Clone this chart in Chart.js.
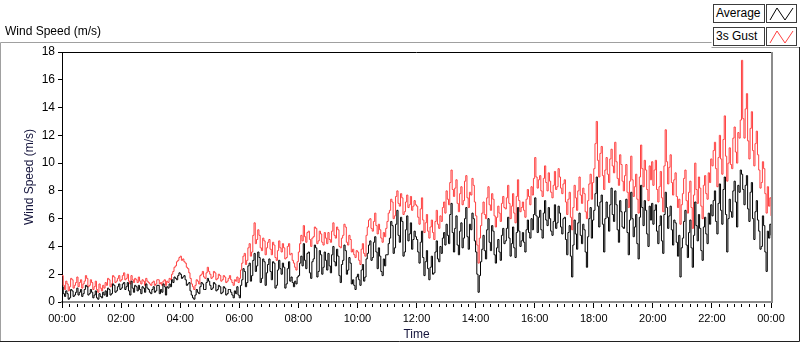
<!DOCTYPE html>
<html>
<head>
<meta charset="utf-8">
<script src="https://cdn.jsdelivr.net/npm/chart.js@4.4.1/dist/chart.umd.min.js"></script>
<style>
  body { margin: 0; background: #fff; font-family: "Liberation Sans", Arial, sans-serif; }
  #wrap { position: relative; width: 800px; height: 342px; overflow: hidden; }
  #graph { position: absolute; left: 0; top: 0; }
  .topTitle { position: absolute; left: 5px; top: 24px; font-size: 12px; color: #000; }
  .legText { position: absolute; left: 713px; width: 48px; height: 17px; border: 1px solid #3c3c3c; background: #fff;
             font-size: 12px; line-height: 17px; padding-left: 2px; box-sizing: content-box; }
  .legIcon { position: absolute; left: 766px; width: 29px; height: 17px; border: 1px solid #3c3c3c; background: #fff; }
</style>
</head>
<body>
<div id="wrap">
  <canvas id="graph" width="800" height="342"></canvas>
  <div class="topTitle">Wind Speed (m/s)</div>
  <div class="legText" style="top:4px">Average</div>
  <div class="legIcon" style="top:4px"><svg width="29" height="17"><polyline points="3,15 10,3 18,15 26,3" fill="none" stroke="#000" stroke-width="1"/></svg></div>
  <div class="legText" style="top:27px">3s Gust</div>
  <div class="legIcon" style="top:27px"><svg width="29" height="17"><polyline points="3,15 10,3 18,15 26,3" fill="none" stroke="#ff4040" stroke-width="1"/></svg></div>
</div>
<script>
// one sample every 2.5 minutes (24 per row)
const average = [
  1.1,0.6,0.4,0.8,0.6,0.2,0.3,0.9,0.8,0.4,0.5,0.7,1.0,0.5,0.7,0.9,0.4,0.6,0.9,1.2,1.1,0.5,0.6,0.9,
  0.7,0.3,0.5,0.8,0.3,0.2,0.6,0.4,0.3,0.7,0.5,0.8,0.4,1.0,0.9,0.5,0.6,1.3,1.2,0.7,0.8,1.1,1.3,0.9,
  1.0,1.3,1.4,0.9,1.1,1.4,0.8,0.5,1.5,1.0,0.7,1.2,1.1,0.8,1.2,0.9,0.6,1.1,1.0,0.7,1.3,1.0,0.9,0.7,
  0.6,0.9,1.1,0.7,0.8,1.2,1.2,0.6,0.9,0.7,1.3,1.1,0.5,1.1,1.0,1.3,1.1,1.6,1.4,1.8,1.7,1.6,1.9,2.1,
  2.0,1.7,1.8,1.9,1.6,1.2,1.3,1.4,0.8,0.5,0.3,0.2,0.5,0.9,0.7,0.6,1.1,1.4,1.3,0.9,0.9,1.4,1.7,1.5,
  1.2,0.9,1.0,1.4,1.3,0.8,0.9,1.2,1.1,0.6,0.7,1.1,1.0,0.5,0.6,0.9,0.9,0.7,0.5,0.3,0.8,0.6,1.1,0.5,
  0.3,1.2,1.6,2.4,2.2,1.1,1.4,2.6,2.8,1.5,1.9,3.0,3.5,2.2,2.6,3.6,3.2,1.4,1.7,3.1,2.9,1.2,2.1,2.7,
  3.1,2.2,1.6,2.9,2.8,1.0,1.2,2.3,3.0,2.4,2.0,2.8,2.5,1.0,1.3,2.4,2.9,1.5,1.8,1.4,1.1,1.5,1.3,1.8,
  1.9,2.8,3.3,2.6,4.2,3.0,2.4,3.5,3.6,2.1,1.7,2.9,3.1,4.1,3.9,1.8,2.2,3.7,3.4,2.0,2.5,3.6,3.0,2.3,
  3.5,2.6,2.1,3.4,4.0,2.9,2.6,3.8,3.3,1.9,1.4,2.7,3.0,4.1,3.7,2.0,2.3,3.2,2.8,1.3,1.6,1.2,0.9,1.8,
  2.0,1.6,1.2,2.3,2.7,1.5,1.8,3.1,3.5,4.1,4.4,3.0,3.2,4.3,4.7,3.6,2.4,3.9,3.3,2.2,1.9,3.1,2.6,3.4,
  3.4,4.2,4.6,5.8,5.5,3.5,3.9,5.6,6.6,4.8,4.3,6.1,5.8,3.3,3.6,5.2,6.2,4.4,4.9,5.7,3.8,4.5,5.1,4.7,
  4.5,3.6,2.8,4.3,5.1,3.2,1.9,2.9,3.7,2.4,1.6,2.5,3.3,2.0,2.1,3.6,4.4,3.1,2.9,4.0,3.5,4.6,5.0,4.1,
  5.6,4.8,4.2,6.3,7.1,5.0,3.6,5.3,6.2,4.1,3.4,5.1,5.7,3.9,4.6,6.0,6.8,4.7,3.8,5.6,5.2,6.4,6.0,4.4,
  3.6,2.0,0.7,1.9,2.9,3.8,4.8,3.7,3.1,5.2,6.0,4.3,3.7,5.5,5.1,3.4,2.8,3.9,4.5,3.6,3.0,4.8,5.3,4.2,
  4.4,5.3,6.1,4.6,3.3,4.2,5.4,3.9,3.2,5.0,6.8,5.1,4.0,4.4,5.0,4.3,3.6,5.2,5.9,5.0,4.6,6.0,5.2,6.3,
  7.5,6.2,5.0,6.1,6.6,5.2,4.6,6.4,7.3,5.9,5.5,6.8,6.0,5.1,4.8,5.8,7.0,5.3,5.7,6.9,6.4,5.4,4.9,6.0,
  6.1,4.5,3.4,5.0,5.5,3.3,1.8,4.1,5.9,4.9,3.8,5.7,6.4,4.8,4.2,5.6,5.2,3.6,2.5,4.7,6.0,6.8,4.6,5.9,
  6.6,7.8,9.0,6.9,5.4,7.2,7.7,5.6,3.6,6.0,7.2,6.1,5.1,7.0,8.2,6.3,5.8,8.0,7.0,5.2,4.3,7.3,6.5,5.4,
  5.3,6.5,7.4,5.0,3.4,5.9,7.9,6.0,4.7,5.4,6.3,4.2,3.1,6.1,8.4,6.8,5.5,7.3,6.6,4.9,4.0,6.9,5.9,7.1,
  5.6,6.6,7.0,5.1,4.2,5.5,6.2,4.4,3.5,6.3,7.9,6.8,5.3,6.2,6.9,5.2,4.1,5.9,5.7,4.3,3.3,4.8,1.8,3.9,
  4.6,5.8,6.6,4.1,3.2,5.0,5.9,3.9,2.5,4.8,7.2,5.5,4.4,6.3,5.3,3.7,3.0,5.4,6.1,4.9,4.2,6.4,5.6,7.0,
  6.2,7.3,8.0,5.8,4.9,7.1,8.5,6.6,5.6,8.1,9.0,6.3,3.6,6.0,7.4,6.5,6.1,8.0,8.7,7.2,5.4,8.4,7.9,9.5,
  9.2,8.1,7.0,8.4,9.1,6.7,5.8,7.9,8.6,6.0,4.5,6.5,7.3,5.9,5.1,3.8,4.0,6.2,5.5,3.6,2.2,5.1,4.6,5.6,
  4.8
];
const gust = [
  1.9,1.2,0.9,1.5,1.3,0.8,1.1,1.7,1.6,1.0,1.2,1.4,1.8,1.1,1.4,1.6,1.0,1.3,1.5,1.9,1.7,1.1,1.2,1.6,
  1.4,0.9,1.1,1.5,0.9,0.7,1.3,1.0,0.8,1.2,1.0,1.4,1.2,1.7,1.6,1.1,1.3,1.9,1.8,1.4,1.5,1.7,1.9,1.5,
  1.6,1.9,2.1,1.6,1.7,2.0,1.5,1.3,1.9,1.6,1.4,1.7,1.6,1.4,1.8,1.5,1.3,1.6,1.5,1.2,1.7,1.5,1.4,1.3,
  1.2,1.4,1.5,1.2,1.3,1.6,1.6,1.3,1.4,1.2,1.5,1.6,1.2,1.5,1.4,1.7,1.6,2.0,2.2,2.5,2.6,2.9,3.0,3.2,
  3.3,3.0,3.1,2.9,2.8,2.5,2.4,2.1,1.7,1.3,1.1,0.9,1.2,1.6,1.5,1.3,1.9,2.0,2.2,1.8,1.7,2.1,2.5,2.2,
  2.0,1.7,1.8,2.2,2.1,1.6,1.7,2.0,1.9,1.5,1.6,1.9,1.8,1.4,1.5,1.7,1.9,1.6,1.4,1.2,1.6,1.5,1.8,1.4,
  1.7,2.3,2.8,3.3,3.5,2.7,3.0,3.9,4.2,3.3,3.6,4.8,5.7,4.2,4.5,5.2,4.8,3.9,3.7,4.6,4.4,3.4,3.9,4.3,
  4.5,3.8,3.4,4.3,4.1,3.2,3.0,3.7,4.4,3.9,3.6,4.2,3.9,3.1,3.2,4.0,4.2,3.4,3.5,3.0,2.8,2.5,2.3,2.9,
  3.6,4.2,4.8,4.4,5.5,4.7,4.3,5.0,5.1,4.5,4.0,4.6,4.7,5.4,5.3,4.2,4.4,5.1,4.9,4.3,4.1,5.0,4.6,4.2,
  5.0,4.5,4.3,5.1,5.7,4.8,4.6,5.4,5.2,4.0,3.9,4.6,4.8,5.6,5.4,4.3,4.1,4.8,4.5,3.6,3.8,3.4,3.2,3.7,
  3.6,3.0,2.7,3.8,4.2,3.5,3.3,4.8,5.4,5.9,6.0,5.3,5.1,5.8,6.4,5.5,4.9,5.6,5.2,4.6,4.3,5.0,4.7,5.3,
  5.8,6.4,6.6,7.4,7.2,6.0,6.2,7.6,8.0,7.1,6.9,7.8,7.5,6.3,6.5,7.2,7.7,6.8,7.0,7.6,6.6,6.9,7.3,7.0,
  6.9,6.1,5.6,6.7,7.5,5.9,5.0,5.7,6.3,5.1,4.6,5.4,5.9,5.0,4.5,5.8,6.6,5.6,5.3,6.2,5.8,6.8,7.2,6.4,
  8.0,7.4,7.0,8.6,9.5,8.1,7.6,8.2,8.8,7.1,6.5,7.8,8.3,7.0,7.3,8.7,9.1,7.5,6.8,7.9,7.7,8.9,8.4,7.2,
  6.2,4.1,2.8,4.6,5.5,6.4,7.2,6.3,6.0,7.5,8.3,7.0,6.6,7.8,7.4,6.2,5.4,6.1,6.9,6.4,5.8,7.1,7.6,6.8,
  6.7,7.5,8.4,7.1,6.0,6.9,7.8,6.4,5.7,7.6,8.8,7.3,6.5,6.8,7.2,6.6,6.1,7.4,8.1,7.6,7.0,8.3,7.7,8.9,
  10.4,9.0,8.2,8.8,9.1,8.0,7.6,8.9,9.8,8.6,8.0,9.3,8.7,7.9,7.5,8.4,9.4,8.1,8.3,9.6,9.0,8.2,7.8,8.5,
  8.8,7.2,6.3,7.4,7.9,6.1,5.2,6.8,8.4,7.5,6.6,8.0,9.0,7.7,7.1,8.2,7.8,6.5,6.0,7.3,8.5,9.2,7.4,8.6,
  9.6,11.4,13.0,10.2,9.0,10.7,11.2,9.1,8.1,9.5,10.4,9.2,8.6,10.3,11.0,9.8,9.3,11.5,10.1,8.9,8.4,10.6,9.9,8.7,
  8.0,9.1,9.9,7.9,6.8,8.7,10.5,8.8,7.6,8.3,9.2,7.4,6.4,9.0,11.3,9.6,8.3,10.2,9.5,8.1,7.3,9.8,8.8,10.1,
  8.4,9.5,10.2,8.1,7.2,8.3,9.4,7.5,6.5,9.8,12.4,10.1,8.5,9.7,10.6,8.6,7.7,8.8,9.3,7.6,6.8,7.4,5.6,7.0,
  7.8,8.9,9.5,7.3,6.4,7.9,8.7,6.8,5.3,7.7,10.0,8.1,7.1,9.0,8.2,6.9,6.0,8.4,9.1,7.8,7.4,9.3,8.6,10.3,
  9.8,10.9,11.5,9.6,8.3,10.4,12.0,10.3,9.2,11.7,13.4,10.5,8.7,10.0,11.1,9.9,9.6,11.8,12.6,10.8,10.0,12.2,11.8,13.1,
  17.4,13.2,11.8,13.9,15.0,11.6,10.3,12.5,13.7,10.9,9.8,11.4,12.3,10.6,9.5,8.2,8.6,10.1,9.6,7.8,6.4,8.3,6.9,7.5,
  6.2
];
const sampleStep = 2.5; // minutes between samples
const xTicks = [0, 120, 240, 360, 480, 600, 720, 840, 960, 1080, 1200, 1320, 1440];

function hhmm(m) {
  const h = Math.floor(m / 60) % 24;
  const mm = m % 60;
  return String(h).padStart(2, "0") + ":" + String(mm).padStart(2, "0");
}

const framePlugin = {
  id: "frame",
  beforeDraw(chart) {
    const c = chart.ctx;
    c.save();
    c.lineWidth = 1;
    c.strokeStyle = "#a0a0a0";
    c.beginPath();
    c.moveTo(0.5, 341.5); c.lineTo(0.5, 42.5); c.lineTo(711.5, 42.5);
    c.moveTo(711.5, 47.5); c.lineTo(799, 47.5);
    c.stroke();
    c.strokeStyle = "#202020";
    c.beginPath();
    c.moveTo(0, 341.5); c.lineTo(799.5, 341.5); c.lineTo(799.5, 47);
    c.stroke();
    c.restore();
  },
  afterDraw(chart) {
    const c = chart.ctx;
    const a = chart.chartArea;
    const x = chart.scales.x;
    c.save();
    c.lineWidth = 1;
    c.strokeStyle = "#000";
    c.beginPath();
    c.moveTo(a.left, a.top + 0.5); c.lineTo(a.right, a.top + 0.5);
    c.stroke();
    c.strokeStyle = "#8c8c8c";
    c.lineWidth = 2;
    c.beginPath();
    c.moveTo(a.right + 1, a.top); c.lineTo(a.right + 1, a.bottom + 1);
    c.stroke();
    // minor ticks every 15 minutes
    c.lineWidth = 1;
    c.strokeStyle = "#000";
    c.beginPath();
    for (let m = 15; m < 1440; m += 15) {
      if (m % 120 === 0) continue;
      const px = Math.round(x.getPixelForValue(m)) + 0.5;
      c.moveTo(px, a.bottom + 2); c.lineTo(px, a.bottom + 5);
    }
    c.stroke();
    c.restore();
  }
};

const ctx = document.getElementById("graph").getContext("2d");
new Chart(ctx, {
  type: "line",
  data: {
    datasets: [
      {
        label: "Average",
        data: average.map((v, i) => ({ x: i * sampleStep, y: v })),
        borderColor: "#000",
        borderWidth: 1,
        pointRadius: 0,
        stepped: true
      },
      {
        label: "3s Gust",
        data: gust.map((v, i) => ({ x: i * sampleStep, y: v })),
        borderColor: "#ff4040",
        borderWidth: 1,
        pointRadius: 0,
        stepped: true
      }
    ]
  },
  options: {
    responsive: false,
    animation: false,
    devicePixelRatio: 1,
    layout: { padding: { left: 22, top: 52, right: 29, bottom: 0 } },
    plugins: { legend: { display: false }, tooltip: { enabled: false } },
    scales: {
      x: {
        type: "linear",
        min: 0,
        max: 1440,
        afterFit: s => { s.height = 40; },
        afterBuildTicks: s => { s.ticks = xTicks.map(v => ({ value: v })); },
        ticks: {
          autoSkip: false,
          maxRotation: 0,
          color: "#000",
          padding: 4,
          font: { family: "Liberation Sans", size: 11 },
          callback: v => hhmm(v)
        },
        grid: { drawOnChartArea: false, tickLength: 6, color: "#000" },
        border: { color: "#8c8c8c", width: 2 },
        title: {
          display: true,
          text: "Time",
          color: "#14143c",
          padding: { top: 0, bottom: 0 },
          font: { family: "Liberation Sans", size: 12 }
        }
      },
      y: {
        min: 0,
        max: 18,
        afterFit: s => { s.width = 40; },
        ticks: {
          stepSize: 2,
          color: "#000",
          padding: 3,
          font: { family: "Liberation Sans", size: 12 }
        },
        grid: { drawOnChartArea: false, tickLength: 4, color: "#000" },
        border: { color: "#000", width: 1 },
        title: {
          display: true,
          text: "Wind Speed (m/s)",
          color: "#14143c",
          padding: { top: 0, bottom: 0 },
          font: { family: "Liberation Sans", size: 12 }
        }
      }
    }
  },
  plugins: [framePlugin]
});
</script>
</body>
</html>
